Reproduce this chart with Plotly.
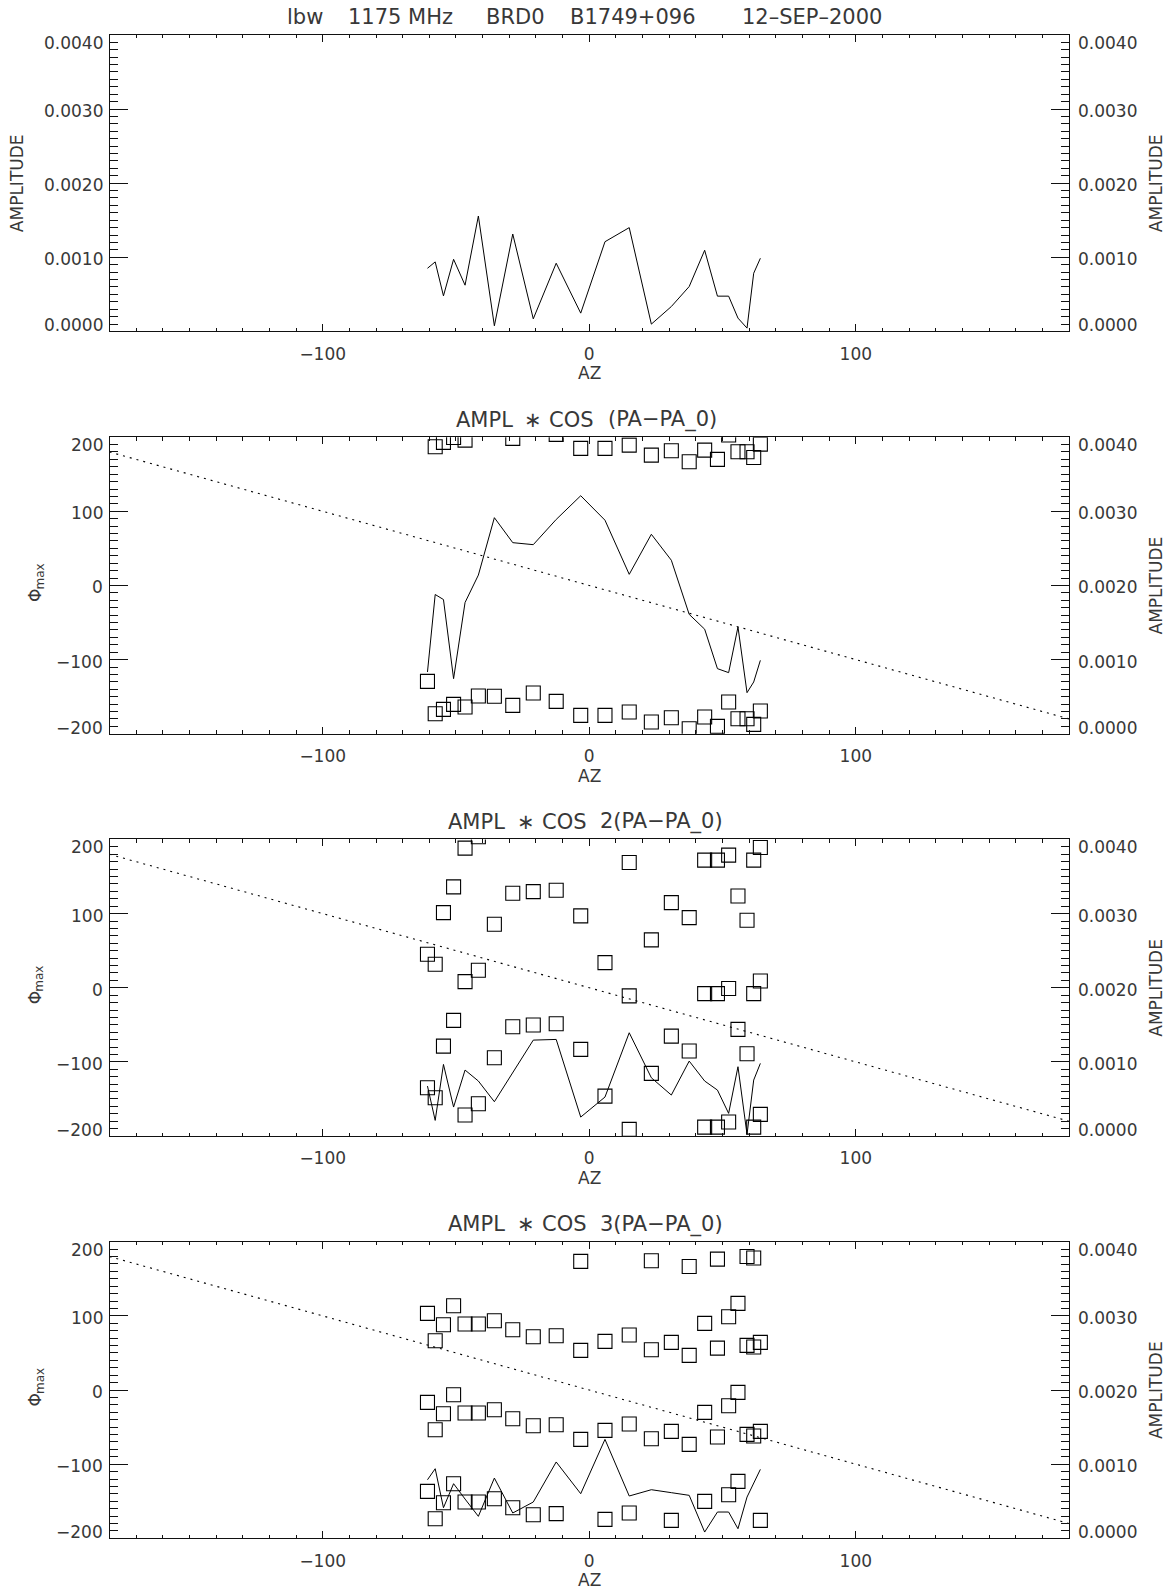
import plotly.graph_objects as go

# ---------------------------------------------------------------- data
# azimuth of each scan (deg)
AZ = [-60.7, -57.8, -54.7, -50.9, -46.6, -41.6, -35.6, -28.7, -21.0, -12.4,
      -3.2, 5.9, 15.0, 23.3, 30.8, 37.5, 43.3, 48.1, 52.3, 55.8, 59.2, 61.7, 64.2]

# total amplitude
AMP_TOTAL = [0.000852, 0.000938, 0.000480, 0.000973, 0.000624, 0.001557, 0.000076,
             0.001314, 0.000170, 0.000920, 0.000247, 0.001210, 0.001400, 0.000099,
             0.000336, 0.000606, 0.001095, 0.000476, 0.000476, 0.000180, 0.000045,
             0.000785, 0.000987]

# AMPL * COS (PA-PA_0): amplitude and phase of maximum
AMP_1 = [0.000833, 0.001878, 0.001810, 0.000743, 0.001770, 0.002140, 0.002914,
         0.002577, 0.002550, 0.002890, 0.003210, 0.002880, 0.002150, 0.002690,
         0.002340, 0.001610, 0.001410, 0.000878, 0.000824, 0.001440, 0.000554,
         0.000698, 0.000990]
PHI_1 = [-129.3, -173.0, -167.1, -160.4, -164.0, -149.0, -149.5, -161.7, -145.0, -156.3,
         -175.2, -175.2, -170.7, -184.2, -178.4, -193.2, -177.5, -190.0, -157.2, -179.7,
         -179.7, -187.4, -169.4]

# AMPL * COS 2(PA-PA_0)
AMP_2 = [0.000674, 0.000211, 0.000966, 0.000391, 0.000890, 0.000742, 0.000463,
         0.000854, 0.001294, 0.001303, 0.000256, 0.000526, 0.001393, 0.000786,
         0.000553, 0.001011, 0.000742, 0.000620, 0.000306, 0.000935, 0.000022,
         0.000755, 0.000980]
PHI_2 = [-134.8, -148.3, -78.7, -44.0, -171.7, -156.4, -94.4, -52.6, -50.3, -48.5,
         -83.1, -146.1, -191.0, -115.5, -65.2, -85.4, -187.9, -187.9, -181.1, -56.2,
         -89.0, -187.9, -170.8]

# AMPL * COS 3(PA-PA_0)
AMP_3 = [0.000790, 0.000939, 0.000413, 0.000737, 0.000530, 0.000297, 0.000813,
         0.000342, 0.000490, 0.001030, 0.000602, 0.001335, 0.000571, 0.000656,
         0.000616, 0.000580, 0.000085, 0.000355, 0.000355, 0.000130, 0.000557,
         0.000746, 0.000930]
PHI_3 = [-136.6, -173.5, -151.9, -126.3, -151.0, -151.0, -146.5, -158.7, -168.1, -166.7,
         -66.5, -174.4, -165.8, -65.6, -175.7, -73.3, -150.1, -63.4, -141.1, -123.1,
         -59.8, -62.0, -175.7]

# reference track of phase vs azimuth
MODEL_AZ = [-180, 180]
MODEL_PHI = [180, -180]

AZ_RANGE = [-180, 180]
AMP_RANGE = [0, 0.004]
PHI_RANGE = [-200, 200]
AMP_TICKS = [0.0, 0.001, 0.002, 0.003, 0.004]
PHI_TICKS = [-200, -100, 0, 100, 200]

TITLE_PARTS = ["lbw", "1175 MHz", "BRD0", "B1749+096", "12–SEP–2000"]
SUBTITLES = [
    ["AMPL", "∗", "COS", "(PA−PA_0)"],
    ["AMPL", "∗", "COS", "2(PA−PA_0)"],
    ["AMPL", "∗", "COS", "3(PA−PA_0)"],
]

# ---------------------------------------------------------------- layout
W, H = 1168, 1592
X_L, X_R = 109.5, 1069.0
TOP0, STEP, PH = 34.85, 402.3, 296.6
FONT = "DejaVu Sans"
INK = "#383838"
AXIS_INK = "#111111"
TICK_SIZE = 17
LABEL_SIZE = 17
TITLE_SIZE = 21


def fx(x):
    return x / W


def fy(y):
    return 1 - y / H


def yid(n):
    return "y" if n == 1 else f"y{n}"


def ykey(n):
    return "yaxis" if n == 1 else f"yaxis{n}"


def xid(n):
    return "x" if n == 1 else f"x{n}"


def xkey(n):
    return "xaxis" if n == 1 else f"xaxis{n}"


def phase_copies(phi, period, ks, lo, hi):
    xs, ys = [], []
    for a, p in zip(AZ, phi):
        for k in ks:
            v = p + k * period
            if lo <= v <= hi:
                xs.append(a)
                ys.append(v)
    return xs, ys


fig = go.Figure()
annotations = []


def text(x, y, s, size, angle=0, xanchor="center", yanchor="middle", xref="paper",
         yref="paper", xshift=0, yshift=0):
    annotations.append(dict(
        x=x, y=y, xref=xref, yref=yref, text=s, showarrow=False,
        textangle=angle, xanchor=xanchor, yanchor=yanchor,
        xshift=xshift, yshift=yshift,
        font=dict(family=FONT, size=size, color=INK),
    ))


def y_axis(top, bot, rng, dtick, minor, side, xanchor_id, overlay=None):
    d = dict(
        domain=[fy(bot), fy(top)], range=rng, anchor=xanchor_id, side=side,
        showline=True, linecolor=AXIS_INK, linewidth=1, mirror=False,
        ticks="inside", ticklen=18, tickwidth=1, tickcolor=AXIS_INK,
        tick0=0, dtick=dtick,
        minor=dict(ticks="inside", ticklen=8, tickwidth=1, tickcolor=AXIS_INK,
                   tick0=0, dtick=minor),
        showticklabels=False, showgrid=False, zeroline=False,
    )
    if overlay:
        d["overlaying"] = overlay
    return d


def tick_labels(values, fmt, yref, side):
    for i, v in enumerate(values):
        shift = -8 if i == len(values) - 1 else (6 if i == 0 else -2)
        if side == "left":
            text(fx(X_L), v, fmt(v), TICK_SIZE, xanchor="right", yref=yref,
                 xshift=-5, yshift=shift)
        else:
            text(fx(X_R), v, fmt(v), TICK_SIZE, xanchor="left", yref=yref,
                 xshift=7, yshift=shift)


amp_fmt = lambda v: f"{v:.4f}"
phi_fmt = lambda v: (f"−{abs(int(v))}" if v < 0 else f"{int(v)}")

panels = [
    None,
    (AMP_1, PHI_1, 360, [-1, 0, 1]),
    (AMP_2, PHI_2, 180, [-2, -1, 0, 1, 2]),
    (AMP_3, PHI_3, 120, [0, 1, 2]),
]

layout = {}
for i in range(4):
    top = TOP0 + STEP * i
    bot = top + PH
    mid = (top + bot) / 2
    xn = i + 1
    yl, yr = 2 * i + 1, 2 * i + 2

    layout[xkey(xn)] = dict(
        domain=[fx(X_L), fx(X_R)], range=AZ_RANGE, anchor=yid(yl),
        showline=True, linecolor=AXIS_INK, linewidth=1, mirror="ticks",
        ticks="inside", ticklen=7, tickwidth=1, tickcolor=AXIS_INK,
        tick0=0, dtick=100,
        minor=dict(ticks="inside", ticklen=3.5, tickwidth=1, tickcolor=AXIS_INK,
                   tick0=0, dtick=10),
        showgrid=False, zeroline=False,
        tickfont=dict(family=FONT, size=TICK_SIZE, color=INK),
        ticklabelstandoff=7,
    )

    if i == 0:
        layout[ykey(yl)] = y_axis(top, bot, AMP_RANGE, 0.001, 0.0001, "left", xid(xn))
        tick_labels(AMP_TICKS, amp_fmt, yid(yl), "left")
        text(fx(17), fy(mid), "AMPLITUDE", LABEL_SIZE, angle=-90)
        fig.add_trace(go.Scatter(
            x=AZ, y=AMP_TOTAL, mode="lines", line=dict(color="black", width=1),
            xaxis=xid(xn), yaxis=yid(yl), showlegend=False, hoverinfo="skip"))
    else:
        amp, phi, period, ks = panels[i]
        layout[ykey(yl)] = y_axis(top, bot, PHI_RANGE, 100, 10, "left", xid(xn))
        tick_labels(PHI_TICKS, phi_fmt, yid(yl), "left")
        # Φ with a "max" subscript, written vertically
        text(fx(35.0), fy(mid + 10.5), "Φ", LABEL_SIZE, angle=-90)
        text(fx(39.5), fy(mid - 8.5), "max", 12, angle=-90)

        fig.add_trace(go.Scatter(
            x=MODEL_AZ, y=MODEL_PHI, mode="lines",
            line=dict(color="black", width=1.1, dash="2px,5px"),
            xaxis=xid(xn), yaxis=yid(yl), showlegend=False, hoverinfo="skip"))
        px_, py_ = phase_copies(phi, period, ks, -212, 212)
        fig.add_trace(go.Scatter(
            x=px_, y=py_, mode="markers",
            marker=dict(symbol="square-open", size=14, color="black",
                        line=dict(width=1.1, color="black")),
            xaxis=xid(xn), yaxis=yid(yl), showlegend=False, hoverinfo="skip"))
        fig.add_trace(go.Scatter(
            x=AZ, y=amp, mode="lines", line=dict(color="black", width=1),
            xaxis=xid(xn), yaxis=yid(yr), showlegend=False, hoverinfo="skip"))

    layout[ykey(yr)] = y_axis(top, bot, AMP_RANGE, 0.001, 0.0001, "right", xid(xn),
                              overlay=yid(yl))
    tick_labels(AMP_TICKS, amp_fmt, yid(yr), "right")
    text(fx(1156), fy(mid), "AMPLITUDE", LABEL_SIZE, angle=-90)
    text(fx(589), fy(bot + 42), "AZ", LABEL_SIZE)

    if i == 0:
        fig.add_trace(go.Scatter(x=[], y=[], xaxis=xid(xn), yaxis=yid(yr),
                                 showlegend=False, hoverinfo="skip"))

# titles: each word group starts where the page layout puts it
title_x = [285.1, 346.3, 484.1, 567.8, 740.3]
for s, x in zip(TITLE_PARTS, title_x):
    text(fx(x), fy(TOP0 - 17.5), s, TITLE_SIZE, xanchor="left")

sub_x = [
    [453.5, 522.4, 547.3, 605.8],
    [445.9, 514.7, 539.6, 597.6],
    [445.9, 514.7, 539.6, 597.6],
]
for j, (parts, xs) in enumerate(zip(SUBTITLES, sub_x)):
    top = TOP0 + STEP * (j + 1)
    for s, x in zip(parts, xs):
        text(fx(x), fy(top - 17.5), s, TITLE_SIZE, xanchor="left")

fig.update_layout(
    width=W, height=H, autosize=False,
    margin=dict(l=0, r=0, t=0, b=0),
    paper_bgcolor="white", plot_bgcolor="white",
    showlegend=False,
    annotations=annotations,
    **layout,
)

fig.write_html("out.html")
